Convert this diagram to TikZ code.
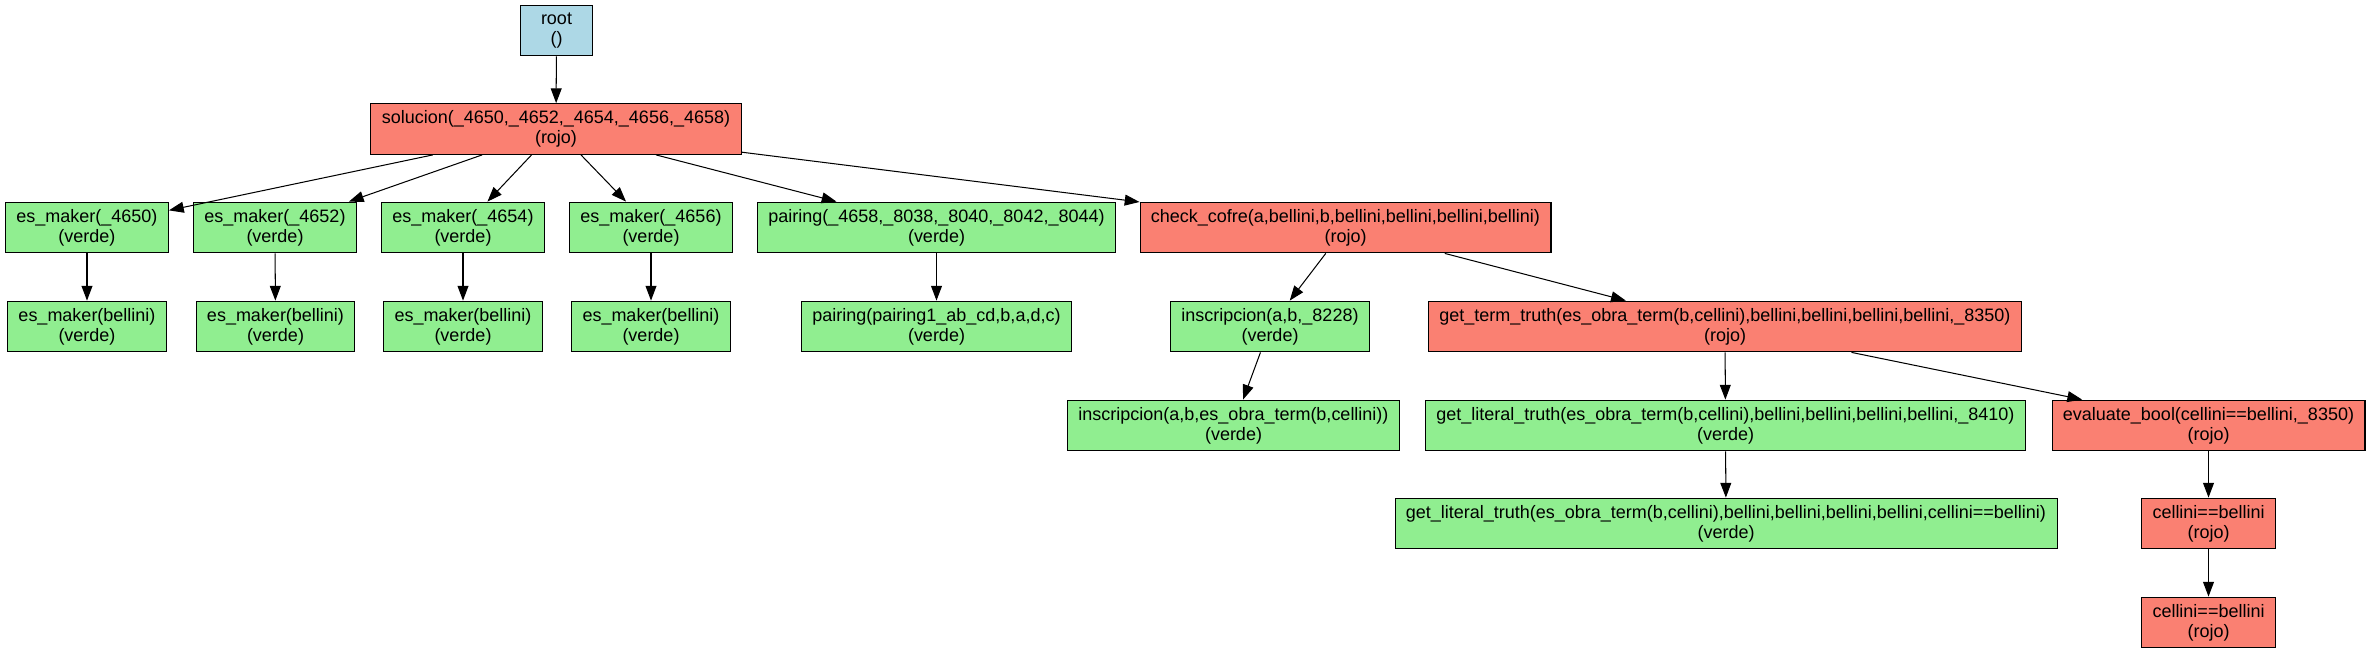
\documentclass[tikz,border=0pt]{standalone}
\usepackage{fontspec}
\setmainfont{Liberation Sans}
\usetikzlibrary{arrows.meta}

\begin{document}
\begin{tikzpicture}[x=0.778pt, y=-0.778pt,
    goal/.style={rectangle, draw=black, line width=0.8pt, align=center,
                 font=\fontsize{14}{15.5}\selectfont, inner xsep=8.5pt,
                 minimum height=39.5pt},
    rojo/.style={goal, fill={rgb,255:red,250;green,128;blue,114}},
    verde/.style={goal, fill={rgb,255:red,144;green,238;blue,144}},
    azul/.style={goal, fill={rgb,255:red,173;green,216;blue,230}, minimum width=56pt},
    call/.style={-{Triangle[length=11.5pt,width=8.5pt]}, line width=0.8pt}]
   \useasboundingbox (0,0) rectangle (2371,653);

   % level 0 and 1
   \node [azul] (root) at (556.5,30.5) {root\\()};
   \node [rojo] (sol) at (556,129) {solucion(\_4650,\_4652,\_4654,\_4656,\_4658)\\(rojo)};

   % level 2
   \node [verde] (es1) at (87,227.5) {es\_maker(\_4650)\\(verde)};
   \node [verde] (es2) at (275,227.5) {es\_maker(\_4652)\\(verde)};
   \node [verde] (es3) at (463,227.5) {es\_maker(\_4654)\\(verde)};
   \node [verde] (es4) at (651,227.5) {es\_maker(\_4656)\\(verde)};
   \node [verde] (pair1) at (936.5,227.5) {pairing(\_4658,\_8038,\_8040,\_8042,\_8044)\\(verde)};
   \node [rojo] (chk) at (1345.5,227.5) {check\_cofre(a,bellini,b,bellini,bellini,bellini,bellini)\\(rojo)};

   % level 3
   \node [verde] (esb1) at (87,326.5) {es\_maker(bellini)\\(verde)};
   \node [verde] (esb2) at (275.5,326.5) {es\_maker(bellini)\\(verde)};
   \node [verde] (esb3) at (463,326.5) {es\_maker(bellini)\\(verde)};
   \node [verde] (esb4) at (651,326.5) {es\_maker(bellini)\\(verde)};
   \node [verde] (pair2) at (936.5,326.5) {pairing(pairing1\_ab\_cd,b,a,d,c)\\(verde)};
   \node [verde] (ins1) at (1270,326.5) {inscripcion(a,b,\_8228)\\(verde)};
   \node [rojo] (gtt) at (1725,326.5) {get\_term\_truth(es\_obra\_term(b,cellini),bellini,bellini,bellini,bellini,\_8350)\\(rojo)};

   % level 4
   \node [verde] (ins2) at (1233.5,425.5) {inscripcion(a,b,es\_obra\_term(b,cellini))\\(verde)};
   \node [verde] (glt1) at (1725.5,425.5) {get\_literal\_truth(es\_obra\_term(b,cellini),bellini,bellini,bellini,bellini,\_8410)\\(verde)};
   \node [rojo] (evb) at (2208.5,425.5) {evaluate\_bool(cellini==bellini,\_8350)\\(rojo)};

   % level 5 and 6
   \node [verde] (glt2) at (1726,523.5) {get\_literal\_truth(es\_obra\_term(b,cellini),bellini,bellini,bellini,bellini,cellini==bellini)\\(verde)};
   \node [rojo] (cb1) at (2208.5,523.5) {cellini==bellini\\(rojo)};
   \node [rojo] (cb2) at (2208.5,622.5) {cellini==bellini\\(rojo)};

   \path[call] (root) edge (sol)
               (sol) edge (es1)
               (sol) edge (es2)
               (sol) edge (es3)
               (sol) edge (es4)
               (sol) edge (pair1)
               (sol) edge (chk);

   \path[call] (es1) edge (esb1)
               (es2) edge (esb2)
               (es3) edge (esb3)
               (es4) edge (esb4)
               (pair1) edge (pair2)
               (chk) edge (ins1)
               (chk) edge (gtt)
               (ins1) edge (ins2)
               (gtt) edge (glt1)
               (gtt) edge (evb)
               (glt1) edge (glt2)
               (evb) edge (cb1)
               (cb1) edge (cb2);

\end{tikzpicture}
\end{document}
